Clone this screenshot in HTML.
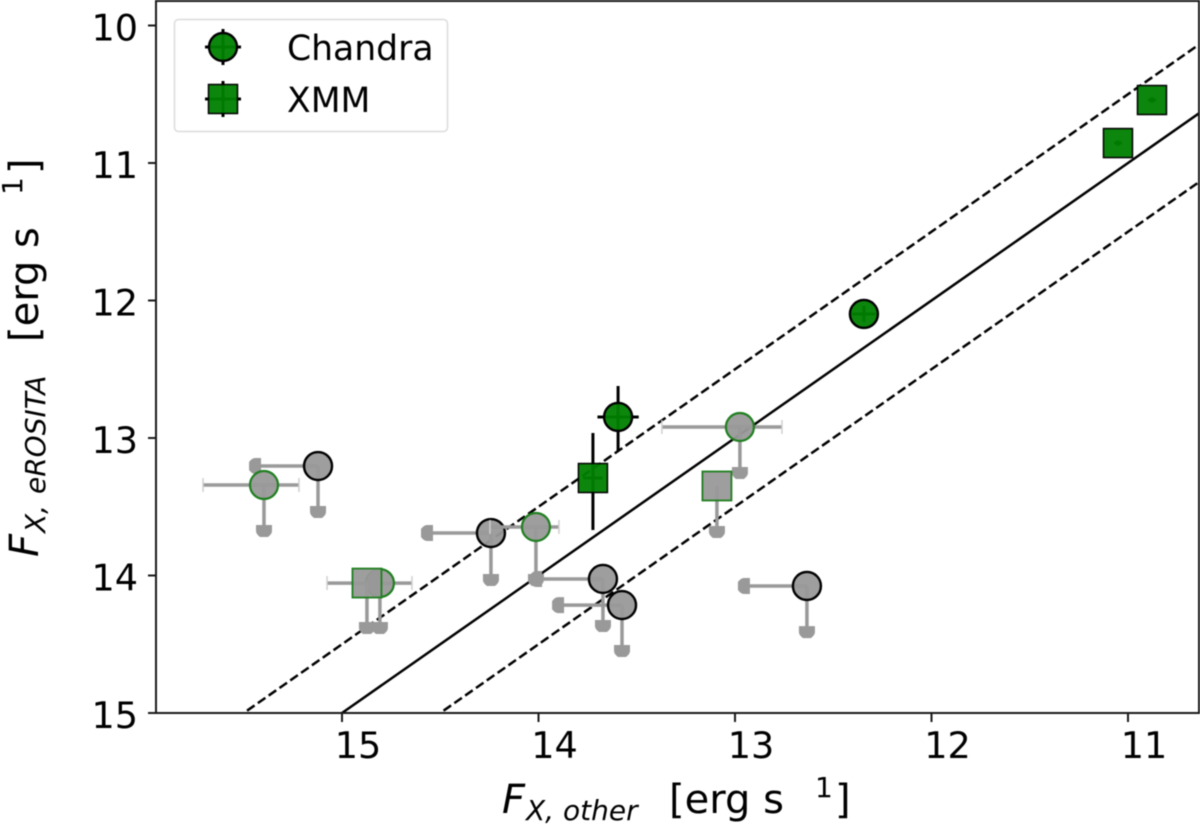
<!DOCTYPE html>
<html lang="en">
<head>
<meta charset="utf-8">
<title>eROSITA flux comparison</title>
<style>
html,body{margin:0;padding:0;background:#fff;width:1200px;height:824px;overflow:hidden}
svg{display:block;font-family:"DejaVu Sans","Liberation Sans",sans-serif;fill:#000;filter:blur(0.45px)}
text{fill:#000}
.it{font-style:italic}
</style>
</head>
<body>
<svg id="chart" xmlns="http://www.w3.org/2000/svg" width="1200" height="824" viewBox="0 0 1200 824">
  <g id="ref-lines"></g>
  <g id="marks"></g>
  <g id="axes"></g>

  <g>
    <text class="it" x="502" y="813" font-size="40">F</text>
    <text class="it" x="526" y="820" font-size="28">X, other</text>
    <text x="669" y="813" font-size="40">[erg s</text>
    <text x="815" y="797" font-size="28">1</text>
    <text x="835" y="813" font-size="40">]</text>
  </g>
  <g>
    <text class="it" transform="translate(38,557) rotate(-90)" font-size="40">F</text>
    <text class="it" transform="translate(45,533) rotate(-90)" font-size="28">X,</text>
    <text class="it" transform="translate(45,494) rotate(-90)" font-size="28">eROSITA</text>
    <text transform="translate(38,342) rotate(-90)" font-size="40">[erg s</text>
    <text transform="translate(22,195) rotate(-90)" font-size="28">1</text>
    <text transform="translate(38,174) rotate(-90)" font-size="40">]</text>
  </g>

  <g>
    <rect x="174.5" y="19.5" width="273" height="112" rx="4" fill="#fff" fill-opacity="0.8" stroke="#dcdcdc" stroke-width="1.5"></rect>
    <g>
      <line x1="205" y1="47" x2="241" y2="47" stroke="#000" stroke-width="3"></line>
      <line x1="223" y1="29" x2="223" y2="65" stroke="#000" stroke-width="3"></line>
      <circle cx="223" cy="47" r="14" fill="#008000" fill-opacity="0.95" stroke="#000" stroke-width="2.4"></circle>
      <text x="287" y="60" font-size="34.6">Chandra</text>
    </g>
    <g>
      <line x1="205" y1="99" x2="241" y2="99" stroke="#000" stroke-width="3"></line>
      <line x1="223" y1="81" x2="223" y2="117" stroke="#000" stroke-width="3"></line>
      <rect x="208.5" y="84.5" width="29" height="29" fill="#008000" fill-opacity="0.95" stroke="#000" stroke-width="1.5"></rect>
      <text x="287" y="112" font-size="34.6">XMM</text>
    </g>
  </g>
</svg>

<script>
// Axis ticks
var xTicks = [15, 14, 13, 12, 11];
var yTicks = [10, 11, 12, 13, 14, 15];

// Reference line offsets (y = x + offset)
var refOffsets = [0, -0.5, 0.5];

// Chandra detections
var chandraX = [12.344, 13.595];
var chandraY = [12.098, 12.847];
var chandraXerr = [0.06, 0.105];
var chandraYerrUp = [0.06, 0.225];
var chandraYerrDown = [0.06, 0.247];

// XMM detections
var xmmX = [13.723, 11.051, 10.878];
var xmmY = [13.291, 10.855, 10.542];
var xmmXerr = [0.05, 0.02, 0.02];
var xmmYerrUp = [0.327, 0.02, 0.02];
var xmmYerrDown = [0.378, 0.02, 0.02];

// Green-edged upper limits (circles, Chandra)
var limCircleX = [15.397, 12.975, 14.013, 14.807];
var limCircleY = [13.342, 12.92, 13.647, 14.055];
var limCircleXlo = [15.707, 13.372, 14.247, 14.807];
var limCircleXhi = [15.219, 12.761, 13.896, 14.644];
var limCircleYlim = [13.72, 13.298, 14.076, 14.425];

// Green-edged upper limits (squares, XMM)
var limSquareX = [14.873, 13.092];
var limSquareY = [14.055, 13.349];
var limSquareXlo = [15.076, 13.092];
var limSquareYlim = [14.425, 13.727];

// Black-edged limits in both axes
var grayX = [15.122, 14.242, 13.672, 13.575, 12.634];
var grayY = [13.204, 13.691, 14.025, 14.215, 14.076];
var grayXlim = [15.473, 14.598, 14.043, 13.931, 12.985];
var grayYlim = [13.582, 14.076, 14.411, 14.593, 14.455];

// Axis functions
function sx(v) { return 342 + (15 - v) * 196.5; }
function sy(v) { return 713 - (15 - v) * 137.5; }

var NS = 'http://www.w3.org/2000/svg';
var refG = document.getElementById('ref-lines');
var marksG = document.getElementById('marks');
var axesG = document.getElementById('axes');
var GRAY = '#999999';
var MARK_R = 14;
var MARK_OPACITY = 0.95;

function mk(parent, tag, attrs) {
  var el = document.createElementNS(NS, tag);
  for (var k in attrs) { el.setAttribute(k, attrs[k]); }
  parent.appendChild(el);
  return el;
}
function group(name) {
  var g = mk(marksG, 'g', {});
  
  
  return g;
}
function seg(g, x1, y1, x2, y2, color, w) {
  return mk(g, 'line', {x1: x1, y1: y1, x2: x2, y2: y2, stroke: color, 'stroke-width': w});
}
function cap(g, px, py, angle) {
  return mk(g, 'path', {
    d: 'M-8,-12 H8 V-6 Q8,-3 4,0 H-4 Q-8,-3 -8,-6 Z',
    fill: GRAY,
    transform: 'translate(' + px + ',' + py + ') rotate(' + angle + ')'
  });
}
function tickCap(g, px, py) {
  return seg(g, px, py - 7, px, py + 7, '#cfcfcf', 1.5);
}
function circle(g, px, py, fill, edge, w) {
  return mk(g, 'circle', {cx: px, cy: py, r: MARK_R, fill: fill, 'fill-opacity': MARK_OPACITY, stroke: edge, 'stroke-width': w});
}
function square(g, px, py, fill, edge, w) {
  return mk(g, 'rect', {x: px - 14.5, y: py - 14.5, width: 29, height: 29, fill: fill, 'fill-opacity': MARK_OPACITY, stroke: edge, 'stroke-width': w});
}

// Reference lines, clipped to the plot frame
var xMin = 15 + (342 - 156) / 196.5;
var xMax = 15 - (1199 - 342) / 196.5;
refOffsets.forEach(function (off) {
  var startX = Math.min(xMin, 15 - off);
  var endX = xMax;
  var l = mk(refG, 'line', {
    x1: sx(startX), y1: sy(startX + off), x2: sx(endX), y2: sy(endX + off),
    stroke: '#000', 'stroke-width': 2.5
  });
  if (off !== 0) {
    l.setAttribute('stroke-dasharray', '9.2 4');
    l.setAttribute('stroke-dashoffset', '-4');
  }
  
  
});

// Black-edged gray limits
grayX.forEach(function (v, i) {
  var g = group('gray-upper-limit');
  var px = sx(v), py = sy(grayY[i]);
  var tx = sx(grayXlim[i]), ty = sy(grayYlim[i]);
  seg(g, px, py, tx + 8, py, GRAY, 3.5);
  seg(g, px, py, px, ty - 8, GRAY, 3.5);
  cap(g, tx, py, 90);
  cap(g, px, ty, 0);
  circle(g, px, py, GRAY, '#000', 2.4);
});

// Green-edged circle limits
limCircleX.forEach(function (v, i) {
  var g = group('chandra-upper-limit');
  var px = sx(v), py = sy(limCircleY[i]);
  var lo = sx(limCircleXlo[i]), hi = sx(limCircleXhi[i]), ty = sy(limCircleYlim[i]);
  seg(g, lo, py, hi, py, GRAY, 3.5);
  if (lo !== px) { tickCap(g, lo, py); }
  tickCap(g, hi, py);
  seg(g, px, py, px, ty - 8, GRAY, 3.5);
  cap(g, px, ty, 0);
  circle(g, px, py, GRAY, '#1f7f1f', 2.2);
});

// Green-edged square limits
limSquareX.forEach(function (v, i) {
  var g = group('xmm-upper-limit');
  var px = sx(v), py = sy(limSquareY[i]);
  var lo = sx(limSquareXlo[i]), ty = sy(limSquareYlim[i]);
  if (lo !== px) {
    seg(g, lo, py, px, py, GRAY, 3.5);
    tickCap(g, lo, py);
  }
  seg(g, px, py, px, ty - 8, GRAY, 3.5);
  cap(g, px, ty, 0);
  square(g, px, py, GRAY, '#1f7f1f', 1.8);
});

// Chandra detections
chandraX.forEach(function (v, i) {
  var g = group('chandra-point');
  var px = sx(v), py = sy(chandraY[i]);
  seg(g, sx(v + chandraXerr[i]), py, sx(v - chandraXerr[i]), py, '#000', 3);
  seg(g, px, sy(chandraY[i] - chandraYerrUp[i]), px, sy(chandraY[i] + chandraYerrDown[i]), '#000', 3);
  circle(g, px, py, '#008000', '#000', 2.4);
});

// XMM detections
xmmX.forEach(function (v, i) {
  var g = group('xmm-point');
  var px = sx(v), py = sy(xmmY[i]);
  seg(g, sx(v + xmmXerr[i]), py, sx(v - xmmXerr[i]), py, '#000', 3);
  seg(g, px, sy(xmmY[i] - xmmYerrUp[i]), px, sy(xmmY[i] + xmmYerrDown[i]), '#000', 3);
  square(g, px, py, '#008000', '#000', 1.5);
});

// Frame
var frame = mk(axesG, 'rect', {x: 156, y: 1, width: 1043, height: 712, fill: 'none', stroke: '#1a1a1a', 'stroke-width': 2});



// Ticks and tick labels
xTicks.forEach(function (v) {
  var t = mk(axesG, 'line', {x1: sx(v), y1: 713, x2: sx(v), y2: 722, stroke: '#1a1a1a', 'stroke-width': 2});
  
  
  var lab = mk(axesG, 'text', {x: sx(v) + 16, y: 758, 'font-size': 36.6, 'text-anchor': 'middle'});
  lab.textContent = String(v);
  
  
});
yTicks.forEach(function (v) {
  var t = mk(axesG, 'line', {x1: 148, y1: sy(v), x2: 156, y2: sy(v), stroke: '#1a1a1a', 'stroke-width': 2});
  
  
  var lab = mk(axesG, 'text', {x: 138, y: sy(v) + 15, 'font-size': 36.6, 'text-anchor': 'end'});
  lab.textContent = String(v);
  
  
});
</script>
</body>
</html>
